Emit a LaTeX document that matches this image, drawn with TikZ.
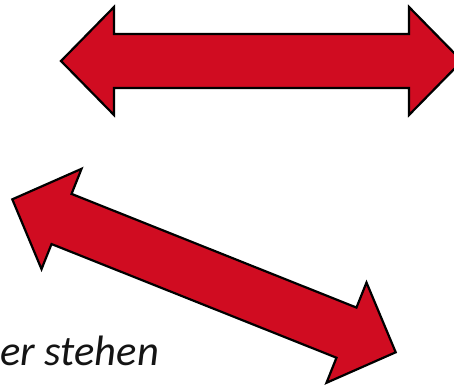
\documentclass[tikz,border=0pt]{standalone}
\usepackage{fontspec}
\setmainfont{Carlito}
\usepackage{tikz}
\definecolor{arrowred}{RGB}{208,12,33}
\definecolor{textblack}{RGB}{20,20,20}
\tikzset{
  redarrow/.style={draw=black,line width=2.2pt,fill=arrowred,line join=miter},
  caption/.style={font=\fontsize{42.5}{50}\selectfont\itshape,text=textblack,
    inner sep=0pt,anchor=base west},
  % double headed block arrow, #1 = half length
  dblarrow/.pic={
    \path[redarrow] ({-#1},0) -- ({-#1+53},54) -- ({-#1+53},27)
      -- ({#1-53},27) -- ({#1-53},54) -- ({#1},0) -- ({#1-53},-54)
      -- ({#1-53},-27) -- ({-#1+53},-27) -- ({-#1+53},-54) -- cycle;
  }
}

\begin{document}
\begin{tikzpicture}[x=1pt,y=1pt]
  \useasboundingbox (0,0) rectangle (454,-384);
  \clip (0,0) rectangle (454,-384);
  \pic (upper) at (261.5,-61) {dblarrow=200.5};
  \pic[rotate=-21.75] (slant) at (204,-275.8) {dblarrow=206.4};
  \node[caption] (label) at (0,-365) {er stehen};
\end{tikzpicture}
\end{document}
